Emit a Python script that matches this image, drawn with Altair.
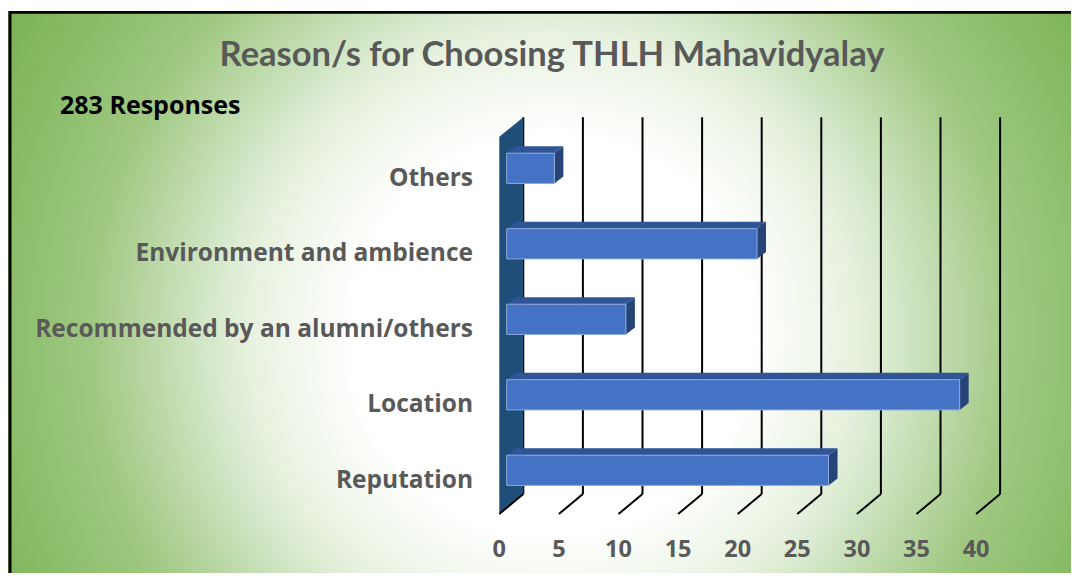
import altair as alt
import pandas as pd

# ---- data ----
categories = ["Others", "Environment and ambience\u00a0", "Recommended by an alumni/others", "Location", "Reputation"]
values = [4, 21, 10, 38, 27]
ticks = [0, 5, 10, 15, 20, 25, 30, 35, 40]
title_text = "Reason/s for Choosing THLH Mahavidyalay"
subtitle_text = "283 Responses"

# ---- geometry (style) ----
W, H = 1063, 562
PX_X = 11.92          # px per value unit
PX_Y = 75.5           # px per category row
X0 = 498.7            # px of value 0 on bar plane
Y0 = 157.3            # px of first row centre
BACK_DX = 16.6        # back plane offset (px)
FRONT_DX = -7.4       # front plane offset (px)
HALF = 0.2            # half bar thickness (rows)
DEP_X = 9 / PX_X      # bar depth in value units
DEP_Y = 7 / PX_Y      # bar depth in row units
BACK_TOP = (106.3 - Y0) / PX_Y
BACK_BOT = (483.0 - Y0) / PX_Y
FRONT_BOT = (503.0 - Y0) / PX_Y
WALL_FRONT_TOP = (125.7 - Y0) / PX_Y

xscale = alt.Scale(domain=[0, 40], range=[X0, X0 + 40 * PX_X], nice=False, zero=False)
yscale = alt.Scale(domain=[0, 4], range=[Y0, Y0 + 4 * PX_Y], nice=False, zero=False)

bars = pd.DataFrame({"cat": categories, "value": values, "row": list(range(len(categories)))})
bars["x0"] = 0.0
bars["yt"] = bars["row"] - HALF
bars["yb"] = bars["row"] + HALF

top_rows, side_rows = [], []
for c, v, r in zip(categories, values, range(len(categories))):
    yt, yb = r - HALF, r + HALF
    top_rows += [
        {"cat": c, "x": 0.0, "y": yt, "y2": yt},
        {"cat": c, "x": DEP_X, "y": yt - DEP_Y, "y2": yt},
        {"cat": c, "x": v, "y": yt - DEP_Y, "y2": yt},
        {"cat": c, "x": v + DEP_X, "y": yt - DEP_Y, "y2": yt - DEP_Y},
    ]
    side_rows += [
        {"cat": c, "x": v, "y": yt, "y2": yb},
        {"cat": c, "x": v + DEP_X, "y": yt - DEP_Y, "y2": yb - DEP_Y},
    ]
top_df = pd.DataFrame(top_rows)
side_df = pd.DataFrame(side_rows)
wall_df = pd.DataFrame({
    "x": [FRONT_DX / PX_X, BACK_DX / PX_X],
    "y": [WALL_FRONT_TOP, BACK_TOP],
    "y2": [FRONT_BOT, BACK_BOT],
})
tick_df = pd.DataFrame({"v": ticks, "label": [str(t) for t in ticks]})

FONT = "Open Sans"
TFONT = "Lato"
GRAY = "#595959"

R = 700
grad = alt.RadialGradient(
    gradient="radial",
    stops=[
        alt.GradientStop(color="#ffffff", offset=0),
        alt.GradientStop(color="#ffffff", offset=200 / R),
        alt.GradientStop(color="#e8f2e0", offset=300 / R),
        alt.GradientStop(color="#d2e6c6", offset=350 / R),
        alt.GradientStop(color="#a0c882", offset=460 / R),
        alt.GradientStop(color="#8cbe6c", offset=540 / R),
        alt.GradientStop(color="#76b050", offset=650 / R),
        alt.GradientStop(color="#70ad47", offset=1),
    ],
    x1=0.5, y1=0.5, r1=0, x2=0.5, y2=0.5, r2=0.5,
)

base = alt.Chart(pd.DataFrame({"a": [0]}))

CX, CY = 544, 324
background = base.mark_rect(fill=grad, clip=True).encode(
    x=alt.value(CX - R), x2=alt.value(CX + R),
    y=alt.value(CY - R), y2=alt.value(CY + R),
)
border = base.mark_rect(fill=None, stroke="black", strokeWidth=3, clip=True).encode(
    x=alt.value(2), x2=alt.value(W + 20), y=alt.value(1.2), y2=alt.value(H + 20),
)

grid_v = alt.Chart(tick_df).mark_rule(color="black", strokeWidth=2, xOffset=BACK_DX).encode(
    x=alt.X("v:Q", scale=xscale, axis=None),
    y=alt.Y(datum=BACK_TOP, scale=yscale, axis=None),
    y2=alt.Y2(datum=BACK_BOT),
)
grid_d = alt.Chart(tick_df).mark_rule(color="black", strokeWidth=2, xOffset=BACK_DX, x2Offset=FRONT_DX).encode(
    x=alt.X("v:Q", scale=xscale, axis=None),
    x2=alt.X2("v"),
    y=alt.Y(datum=BACK_BOT, scale=yscale, axis=None),
    y2=alt.Y2(datum=FRONT_BOT),
)
wall = alt.Chart(wall_df).mark_area(color="#1f4e79", opacity=1).encode(
    x=alt.X("x:Q", scale=xscale, axis=None),
    y=alt.Y("y:Q", scale=yscale, axis=None),
    y2="y2:Q",
)
top_face = alt.Chart(top_df).mark_area(color="#2f5597", opacity=1).encode(
    x=alt.X("x:Q", scale=xscale, axis=None),
    y=alt.Y("y:Q", scale=yscale, axis=None),
    y2="y2:Q",
    detail="cat:N",
)
side_face = alt.Chart(side_df).mark_area(color="#264478", opacity=1).encode(
    x=alt.X("x:Q", scale=xscale, axis=None),
    y=alt.Y("y:Q", scale=yscale, axis=None),
    y2="y2:Q",
    detail="cat:N",
)
front = alt.Chart(bars).mark_rect(color="#4472c4", stroke="#8eaadb", strokeWidth=1).encode(
    x=alt.X("x0:Q", scale=xscale, axis=None),
    x2="value:Q",
    y=alt.Y("yt:Q", scale=yscale, axis=None),
    y2="yb:Q",
)
cat_labels = alt.Chart(bars).mark_text(
    align="right", baseline="middle", dx=-33.7, dy=10.5, font=FONT, fontSize=24.5,
    fontWeight="bold", color=GRAY,
).encode(
    x=alt.X(datum=0, scale=xscale, axis=None),
    y=alt.Y("row:Q", scale=yscale, axis=None),
    text="cat:N",
)
num_labels = alt.Chart(tick_df).mark_text(
    align="center", baseline="middle", dx=FRONT_DX, font=FONT, fontSize=23.5,
    fontWeight="bold", color=GRAY,
).encode(
    x=alt.X("v:Q", scale=xscale, axis=None),
    y=alt.value(538.5),
    text="label:N",
)
title = base.mark_text(
    align="center", baseline="middle", font=TFONT, fontSize=34.5, fontWeight="bold", color=GRAY,
).encode(x=alt.value(544), y=alt.value(45), text=alt.value(title_text))
subtitle = base.mark_text(
    align="left", baseline="middle", font=FONT, fontSize=25, fontWeight="bold", color="black",
).encode(x=alt.value(52), y=alt.value(95), text=alt.value(subtitle_text))

chart = alt.layer(
    background, border, grid_v, wall, grid_d, top_face, side_face, front,
    cat_labels, num_labels, title, subtitle,
).properties(
    width=W, height=H,
    autosize=alt.AutoSizeParams(type="none"),
    padding={"left": 0, "top": 3, "right": 0, "bottom": 0},
).configure_view(stroke=None)

chart.save("out.html", embed_options={"renderer": "svg", "actions": False})
